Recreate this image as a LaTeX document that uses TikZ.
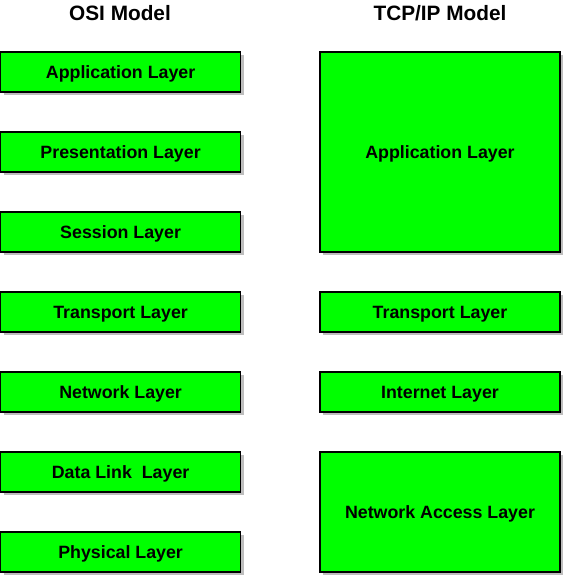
\documentclass[tikz,border=0pt]{standalone}
\usepackage{fontspec}
\setmainfont{Liberation Sans}
\usepackage{tikz}
\usetikzlibrary{shadows}

\definecolor{layergreen}{RGB}{0,255,0}
\definecolor{shadowgray}{RGB}{190,190,190}

\tikzset{
    layer/.style={draw=black, line width=1.2pt, fill=layergreen, minimum width=240pt,
        minimum height=40pt, inner sep=0pt, font=\fontsize{17.8}{20}\selectfont\bfseries,
        text height=12.6pt, text depth=0pt,
        drop shadow={shadow xshift=3pt, shadow yshift=-3pt, fill=shadowgray, opacity=1}},
    title/.style={font=\fontsize{20.8}{24}\selectfont\bfseries, inner sep=0pt,
        text height=15pt, text depth=0pt}
}

\begin{document}
\begin{tikzpicture}[x=1pt, y=-1pt]
    \useasboundingbox (0, 0) rectangle (563, 575);
    % titles
    \node[title] at (120, 13) (osi) {OSI Model};
    \node[title] at (440, 13) (tcpip) {TCP/IP Model};
    % OSI layers
    \node[layer] at (120.6, 72) (osi7) {Application Layer};
    \node[layer] at (120.6, 152) (osi6) {Presentation Layer};
    \node[layer] at (120.6, 232) (osi5) {Session Layer};
    \node[layer] at (120.6, 312) (osi4) {Transport Layer};
    \node[layer] at (120.6, 392) (osi3) {Network Layer};
    \node[layer] at (120.6, 472) (osi2) {Data Link~~Layer};
    \node[layer] at (120.6, 552) (osi1) {Physical Layer};
    % TCP/IP layers
    \node[layer, minimum height=200pt] at (440, 152) (tcp4) {Application Layer};
    \node[layer] at (440, 312) (tcp3) {Transport Layer};
    \node[layer] at (440, 392) (tcp2) {Internet Layer};
    \node[layer, minimum height=120pt] at (440, 512) (tcp1) {Network Access Layer};
\end{tikzpicture}
\end{document}
